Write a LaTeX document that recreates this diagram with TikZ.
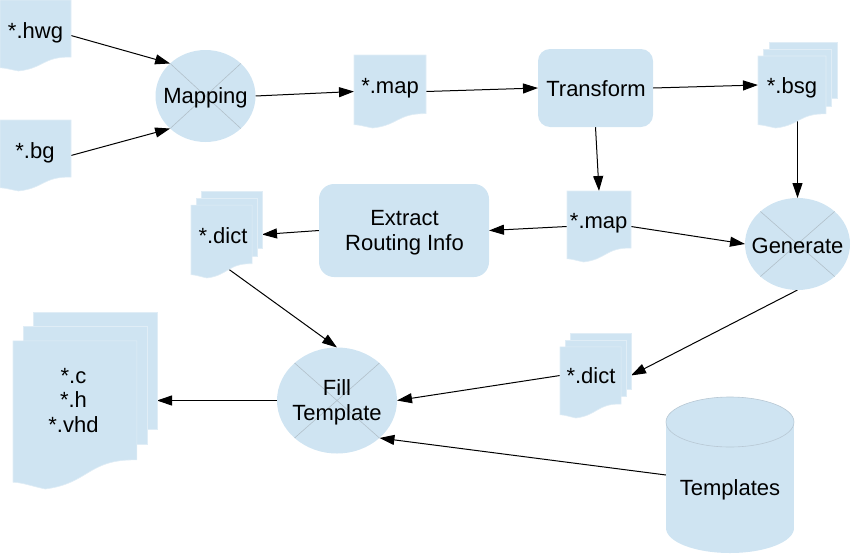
\documentclass[tikz,border=0pt]{standalone}
\usepackage{fontspec}
\setmainfont{Liberation Sans}
\usetikzlibrary{arrows.meta,shapes.geometric}
\pgfdeclarelayer{background}
\pgfsetlayers{background,main}
\definecolor{shapefill}{RGB}{207,228,242}
\definecolor{xlinecol}{RGB}{178,192,202}
\definecolor{pageedge}{RGB}{224,237,246}
\definecolor{lidedge}{RGB}{184,200,212}

\newcommand{\wavedoc}[5]{% style, x, y, w, h
  \path[#1] ({#2},{#3}) -- ({#2+#4},{#3}) -- ({#2+#4},{#3+0.8037*#5})
    .. controls ({#2+0.6042*#4},{#3+0.7972*#5}) and ({#2+0.6176*#4},{#3+0.9616*#5}) .. ({#2+0.2602*#4},{#3+#5})
    .. controls ({#2+0.1324*#4},{#3+0.9769*#5}) and ({#2+0.0856*#4},{#3+0.9583*#5}) .. ({#2},{#3+0.9542*#5}) -- cycle;}

\newcommand{\singledoc}[5]{% name, x, y, w, h
  \wavedoc{pagestyle}{#2}{#3}{#4}{#5}
  \node[anchorbox, minimum width=#4pt, minimum height=#5pt] (#1) at ({#2+#4/2},{#3+#5/2}) {};}

\newcommand{\multidoc}[5]{% name, x, y, w, h
  \path[pagestyle] ({#2+0.14*#4},{#3}) rectangle ({#2+#4},{#3+0.66*#5});
  \path[pagestyle] ({#2+0.07*#4},{#3+0.08*#5}) rectangle ({#2+0.93*#4},{#3+0.75*#5});
  \wavedoc{pagestyle}{#2}{#3+0.163*#5}{0.86*#4}{0.837*#5}
  \node[anchorbox, minimum width=#4pt, minimum height=#5pt] (#1) at ({#2+#4/2},{#3+#5/2}) {};}

\tikzset{
  pagestyle/.style={fill=shapefill, draw=pageedge, line width=0.6pt},
  anchorbox/.style={rectangle, inner sep=0pt, outer sep=0pt, draw=none},
  procell/.style={ellipse, fill=shapefill, inner sep=0pt, outer sep=0pt},
  procbox/.style={rectangle, fill=shapefill, inner sep=0pt, outer sep=0pt},
  xl/.style={draw=xlinecol, line width=0.6pt},
  lbl/.style={anchor=base, inner sep=0pt, outer sep=0pt, font=\fontsize{22}{25}\selectfont, text=black},
  conn/.style={draw=black, line width=1pt, -{Triangle[length=15pt,width=10pt]}}
}

\begin{document}
\begin{tikzpicture}[x=1pt,y=-1pt]
\useasboundingbox (0,0) rectangle (851,554);

% documents
\singledoc{hwg}{0}{0}{71}{71}
\singledoc{bg}{0}{120}{71}{71}
\singledoc{mapa}{354}{55}{72}{73}
\singledoc{mapb}{567}{191}{64}{71}
\multidoc{bsg}{758}{42}{79}{86}
\multidoc{dicta}{191}{191}{71}{87}
\multidoc{dictb}{560}{333}{71}{85}
\multidoc{out}{13}{312}{144}{177}

% process ellipses
\node[procell, minimum width=100pt, minimum height=92pt] (mapping) at (205.5,96) {};
\draw[xl] (mapping.north west) -- (mapping.south east) (mapping.north east) -- (mapping.south west);
\node[procell, minimum width=105pt, minimum height=92pt] (generate) at (797.5,244) {};
\draw[xl] (generate.north west) -- (generate.south east) (generate.north east) -- (generate.south west);
\node[procell, minimum width=120pt, minimum height=106pt] (fill) at (337,400.5) {};
\draw[xl] (fill.north west) -- (fill.south east) (fill.north east) -- (fill.south west);

% rounded boxes
\node[procbox, rounded corners=12pt, minimum width=115pt, minimum height=78pt] (transform) at (595.5,88) {};
\node[procbox, rounded corners=15pt, minimum width=170pt, minimum height=93pt] (extract) at (404,230.5) {};

% cylinder
\fill[shapefill] (666,422) rectangle (794,528);
\fill[shapefill] (730,528) ellipse [x radius=64pt, y radius=25pt];
\fill[shapefill] (730,422) ellipse [x radius=64pt, y radius=25pt];
\draw[lidedge, line width=0.6pt] (730,422) ellipse [x radius=64pt, y radius=25pt];
\node[anchorbox, minimum width=128pt, minimum height=156pt] (tpl) at (730,475) {};

% labels
\node[lbl] (t-hwg) at (35.5,38) {*.hwg};
\node[lbl] (t-bg) at (35,158) {*.bg};
\node[lbl] (t-mapping) at (205.5,103.5) {Mapping};
\node[lbl] (t-mapa) at (390,93.3) {*.map};
\node[lbl] (t-transform) at (596,96.7) {Transform};
\node[lbl] (t-bsg) at (792,93.3) {*.bsg};
\node[lbl] (t-mapb) at (598.7,228.3) {*.map};
\node[lbl] (t-dicta) at (223,243.3) {*.dict};
\node[lbl] (t-extract1) at (404.5,225) {Extract};
\node[lbl] (t-extract2) at (404.5,250.7) {Routing Info};
\node[lbl] (t-generate) at (797.5,253.3) {Generate};
\node[lbl] (t-dictb) at (591,383.3) {*.dict};
\node[lbl] (t-fill1) at (337,395) {Fill};
\node[lbl] (t-fill2) at (337,420) {Template};
\node[lbl] (t-out1) at (73.5,383) {*.c};
\node[lbl] (t-out2) at (73.5,407.5) {*.h};
\node[lbl] (t-out3) at (73.5,432) {*.vhd};
\node[lbl] (t-tpl) at (730,495) {Templates};

\coordinate (dicta-g) at (221.5,264);

% connectors
\begin{pgfonlayer}{background}
\draw[conn] (hwg.east) -- (mapping.north west);
\draw[conn] (bg.east) -- (mapping.south west);
\draw[conn] (mapping.east) -- (mapa.west);
\draw[conn] (mapa.east) -- (transform.west);
\draw[conn] (transform.east) -- (bsg.west);
\draw[conn] (transform.south) -- (mapb.north);
\draw[conn] (bsg.center) -- (generate.north);
\draw[conn] (mapb.west) -- (extract.east);
\draw[conn] (mapb.east) -- (generate.west);
\draw[conn] (extract.west) -- (dicta.east);
\draw[conn] (dicta-g) -- (fill.north);
\draw[conn] (generate.south) -- (dictb.east);
\draw[conn] (dictb.west) -- (fill.east);
\draw[conn] (fill.west) -- (out.east);
\draw[conn] (tpl.west) -- (fill.south east);
\end{pgfonlayer}
\end{tikzpicture}
\end{document}
